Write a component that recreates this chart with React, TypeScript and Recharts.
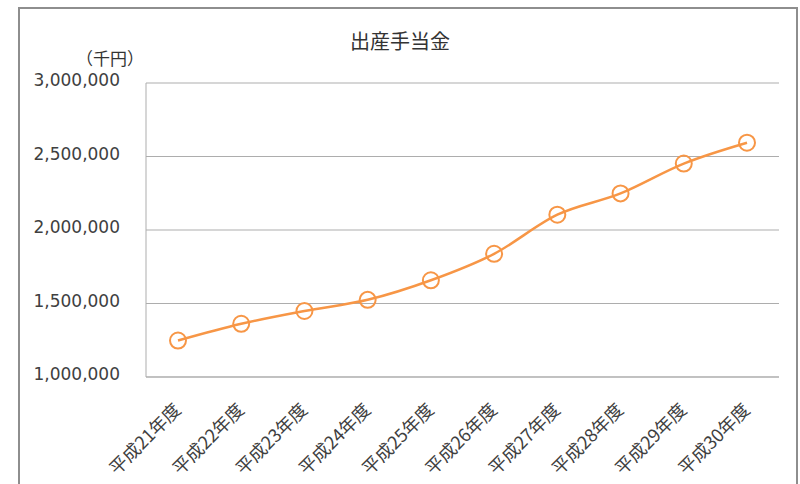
import React from 'react';
import { LineChart, Line, XAxis, YAxis, CartesianGrid } from 'recharts';

// 出産手当金 (千円) by fiscal year
const years = [
  '平成21年度', '平成22年度', '平成23年度', '平成24年度', '平成25年度',
  '平成26年度', '平成27年度', '平成28年度', '平成29年度', '平成30年度',
];
const amounts = [
  1248000, 1362000, 1449000, 1525000, 1658000,
  1838000, 2104000, 2249000, 2452000, 2594000,
];
const yTicks = [1000000, 1500000, 2000000, 2500000, 3000000];

const data = years.map((year, i) => ({ year, amount: amounts[i] }));

const LINE_COLOR = '#F79646';
const GRID_COLOR = '#ADADAD';
const TEXT_COLOR = '#404040';
const JP_FONT = '"Noto Sans CJK JP", "Noto Sans", sans-serif';

const YTick = ({ x, y, payload }: any) => (
  <text
    x={x - 18}
    y={y}
    dy={3}
    textAnchor="end"
    fontSize={17}
    fontFamily='"DejaVu Sans", Verdana, sans-serif'
    fill={TEXT_COLOR}
  >
    {Number(payload.value).toLocaleString('en-US')}
  </text>
);

const XTick = ({ x, y, payload }: any) => {
  const ax = x + 4;
  const ay = y + 26;
  return (
    <text
      x={ax}
      y={ay}
      textAnchor="end"
      fontSize={18}
      fontFamily={JP_FONT}
      fill={TEXT_COLOR}
      transform={`rotate(-45, ${ax}, ${ay})`}
    >
      {payload.value}
    </text>
  );
};

const App: React.FC = () => {
  return (
    <div
      style={{
        position: 'absolute',
        left: 0,
        top: 0,
        width: 800,
        height: 484,
        overflow: 'hidden',
        background: '#fff',
      }}
    >
      {/* chart frame, runs off the bottom of the picture */}
      <div
        style={{
          position: 'absolute',
          left: 18,
          top: 7,
          width: 776,
          height: 520,
          border: '2px solid #8E8E8E',
        }}
      />

      <div
        style={{
          position: 'absolute',
          top: 26,
          left: 0,
          width: 800,
          textAlign: 'center',
          fontFamily: JP_FONT,
          fontSize: 20,
          color: '#333',
        }}
      >
        出産手当金
      </div>
      <div
        style={{
          position: 'absolute',
          top: 45,
          left: 76,
          fontFamily: JP_FONT,
          fontSize: 17,
          color: '#333',
        }}
      >
        （千円）
      </div>

      <div style={{ position: 'absolute', left: 0, top: 0 }}>
        <LineChart
          width={800}
          height={484}
          data={data}
          margin={{ top: 83, right: 21, bottom: 7, left: 26 }}
        >
          <CartesianGrid vertical={false} stroke={GRID_COLOR} strokeWidth={1} />
          <XAxis
            dataKey="year"
            height={100}
            interval={0}
            padding={{ left: 32, right: 32 }}
            tickLine={false}
            axisLine={{ stroke: GRID_COLOR }}
            tick={<XTick />}
          />
          <YAxis
            width={120}
            domain={[1000000, 3000000]}
            ticks={yTicks}
            interval={0}
            tickLine={false}
            axisLine={{ stroke: GRID_COLOR }}
            tick={<YTick />}
          />
          <Line
            type="monotone"
            dataKey="amount"
            stroke={LINE_COLOR}
            strokeWidth={2.5}
            dot={{ r: 8, stroke: LINE_COLOR, strokeWidth: 2, fill: 'none' }}
            activeDot={false}
            isAnimationActive={false}
          />
        </LineChart>
      </div>
    </div>
  );
};

export default App;
